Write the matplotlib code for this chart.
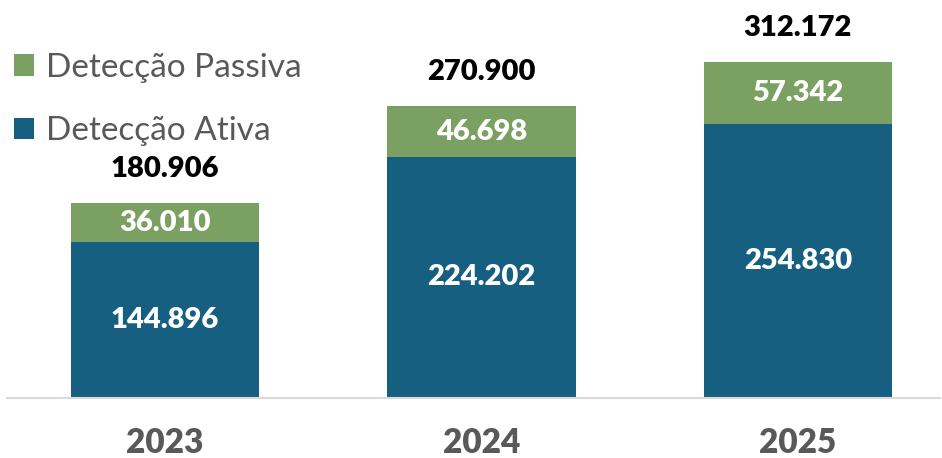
import matplotlib
matplotlib.use('Agg')
import matplotlib.pyplot as plt

years = ['2023', '2024', '2025']
ativa = [144896, 224202, 254830]
passiva = [36010, 46698, 57342]
totals = [180906, 270900, 312172]

BLUE = '#175F80'
GREEN = '#7AA062'
GRAY = '#595959'

plt.rcParams['font.family'] = ['Lato', 'DejaVu Sans']

def fmt(v):
    return f'{v:,}'.replace(',', '.')

fig = plt.figure(figsize=(9.42, 4.58), dpi=100)
ax = fig.add_axes([7/942, 60/458, 933/942, 398/458])

x = list(range(len(years)))
b1 = ax.bar(x, ativa, width=0.595, color=BLUE, label='Detecção Ativa')
b2 = ax.bar(x, passiva, width=0.595, bottom=ativa, color=GREEN, label='Detecção Passiva')

for i in x:
    ax.text(i, ativa[i] / 2, fmt(ativa[i]), ha='center', va='center',
            color='white', fontsize=21, fontweight='heavy')
    ax.text(i, ativa[i] + passiva[i] / 2, fmt(passiva[i]), ha='center', va='center',
            color='white', fontsize=21, fontweight='heavy')
    ax.annotate(fmt(totals[i]), (i, totals[i]), xytext=(0, 19), textcoords='offset points',
                ha='center', va='baseline', color='black', fontsize=21, fontweight='heavy')

ax.set_xlim(-0.499, 2.449)
ax.set_ylim(0, 369780)
ax.set_xticks(x)
ax.set_xticklabels(years, fontsize=24, fontweight='heavy', color=GRAY)
ax.tick_params(axis='x', length=0, pad=21)
ax.set_yticks([])
for s in ['top', 'right', 'left']:
    ax.spines[s].set_visible(False)
ax.spines['bottom'].set_color('#D9D9D9')
ax.spines['bottom'].set_linewidth(1.5)

ax.legend(handles=[b2, b1], loc='upper left', bbox_to_anchor=(14/942, 0.885),
          bbox_transform=fig.transFigure, frameon=False, fontsize=24,
          handlelength=0.6, handleheight=0.6, handletextpad=0.36,
          labelspacing=1.0, labelcolor=GRAY, borderaxespad=0, borderpad=0)

fig.savefig('out.png', dpi=100)
